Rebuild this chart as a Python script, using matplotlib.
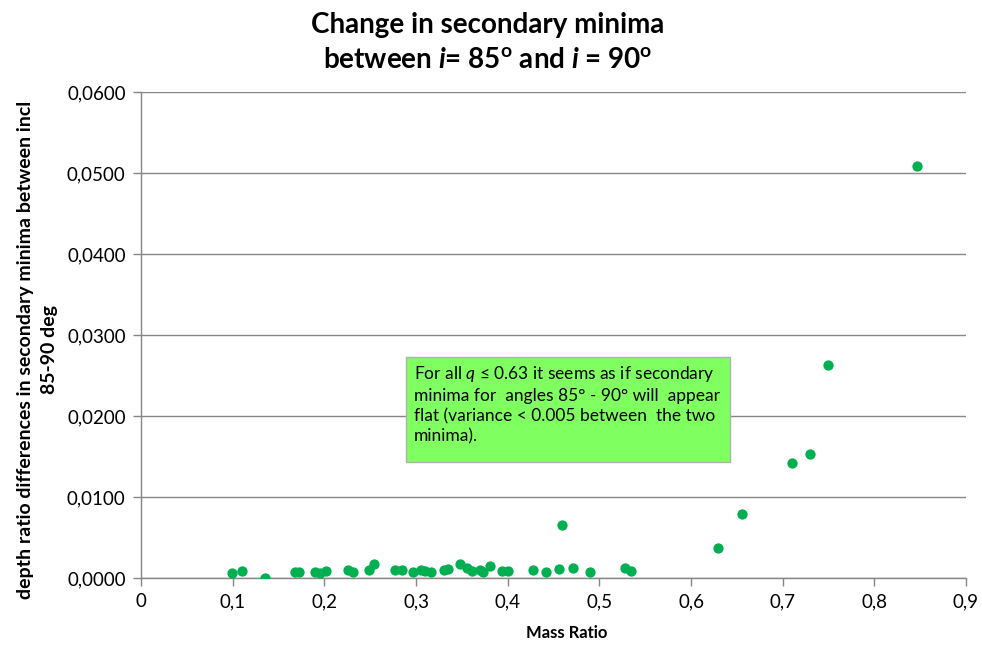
import matplotlib.pyplot as plt
from matplotlib.ticker import FuncFormatter, MultipleLocator
from matplotlib.patches import Rectangle

plt.rcParams['font.family'] = ['Lato', 'DejaVu Sans']
plt.rcParams['mathtext.fontset'] = 'custom'
plt.rcParams['mathtext.rm'] = 'Lato'
plt.rcParams['mathtext.it'] = 'Lato:italic'
plt.rcParams['mathtext.bf'] = 'Lato:bold'
plt.rcParams['mathtext.bfit'] = 'Lato:bold:italic'

# mass ratio q vs depth ratio difference (85-90 deg)
mass_ratio = [0.099, 0.110, 0.135, 0.168, 0.172, 0.190, 0.195, 0.202, 0.226, 0.231,
              0.249, 0.254, 0.277, 0.285, 0.297, 0.305, 0.310, 0.316, 0.330, 0.335,
              0.348, 0.356, 0.361, 0.370, 0.373, 0.381, 0.394, 0.400, 0.428, 0.442,
              0.456, 0.459, 0.471, 0.490, 0.528, 0.534, 0.630, 0.656, 0.710, 0.730,
              0.750, 0.847]
depth_diff = [0.0006, 0.0009, 0.0000, 0.0007, 0.0007, 0.0008, 0.0006, 0.0009, 0.0010, 0.0008,
              0.0010, 0.0017, 0.0010, 0.0010, 0.0007, 0.0010, 0.0009, 0.0007, 0.0010, 0.0011,
              0.0017, 0.0012, 0.0009, 0.0010, 0.0008, 0.0015, 0.0009, 0.0009, 0.0010, 0.0007,
              0.0011, 0.0066, 0.0012, 0.0007, 0.0012, 0.0009, 0.0037, 0.0079, 0.0142, 0.0153,
              0.0263, 0.0508]

note = ("For all $q$ \u2264 0.63 it seems as if secondary\n"
        "minima for  angles 85\u00b0 - 90\u00b0 will  appear\n"
        "flat (variance < 0.005 between  the two\n"
        "minima).")

fig = plt.figure(figsize=(9.82, 6.45), dpi=100)
ax = fig.add_axes([0.1436, 0.1039, 0.8401, 0.7535])

ax.scatter(mass_ratio, depth_diff, s=55, color='#00B050', zorder=3, linewidths=0)

ax.set_xlim(0, 0.9)
ax.set_ylim(0, 0.06)
ax.xaxis.set_major_locator(MultipleLocator(0.1))
ax.yaxis.set_major_locator(MultipleLocator(0.01))

def fmt_x(v, pos):
    if abs(v) < 1e-9:
        return '0'
    return ('%.1f' % v).replace('.', ',')

def fmt_y(v, pos):
    return ('%.4f' % v).replace('.', ',')

ax.xaxis.set_major_formatter(FuncFormatter(fmt_x))
ax.yaxis.set_major_formatter(FuncFormatter(fmt_y))

ax.grid(axis='y', color='#868686', linewidth=1)
ax.set_axisbelow(True)
for s in ['top', 'right']:
    ax.spines[s].set_visible(False)
for s in ['left', 'bottom']:
    ax.spines[s].set_color('#868686')
    ax.spines[s].set_linewidth(1)
ax.tick_params(axis='both', colors='#868686', length=6, width=1, labelsize=13.5,
               labelcolor='#000000', direction='out')
ax.tick_params(axis='y', pad=5)
ax.tick_params(axis='x', pad=5)

ax.set_xlabel('Mass Ratio', fontsize=12, fontweight='bold')
ax.xaxis.set_label_coords(0.516, -0.097)
ax.set_ylabel('depth ratio differences in secondary minima between incl\n85-90 deg',
              fontsize=14, fontweight='bold', linespacing=1.45)
ax.yaxis.set_label_coords(-0.101, 0.47)

fig.text(0.497, 0.934,
         'Change in secondary minima\nbetween $\\mathbfit{i}$= 85$^{\\mathbf{o}}$ and $\\mathbfit{i}$ = 90$^{\\mathbf{o}}$',
         ha='center', va='center', fontsize=20, fontweight='bold', linespacing=1.4)

box = Rectangle((0.321, 0.239), 0.393, 0.216, transform=ax.transAxes,
                facecolor='#80FF60', edgecolor='#B0B0B0', linewidth=1, zorder=4)
ax.add_patch(box)
ax.text(0.331, 0.44, note, transform=ax.transAxes, ha='left', va='top',
        fontsize=12.5, linespacing=1.3, zorder=5)

fig.savefig('out.png', dpi=100)
